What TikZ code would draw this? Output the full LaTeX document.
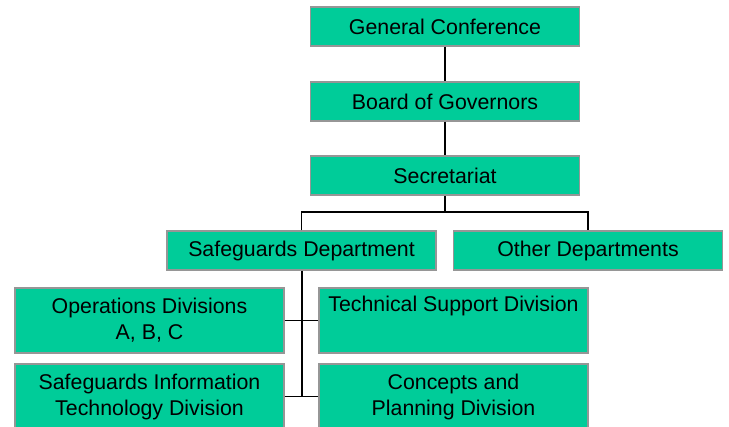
\documentclass[tikz,border=0pt]{standalone}
\usepackage{fontspec}
\setmainfont{Liberation Sans}
\definecolor{boxgreen}{RGB}{0,204,153}
\definecolor{boxedge}{RGB}{150,150,150}
\tikzset{
  orgbox/.style={draw=boxedge, line width=0.8pt, fill=boxgreen, inner sep=0pt,
    minimum width=269*0.75pt, minimum height=39*0.75pt, align=center,
    font=\fontsize{16}{19.5}\selectfont},
  tallbox/.style={orgbox, minimum height=65*0.75pt},
  thinline/.style={black, line width=1pt},
  thickline/.style={black, line width=1.5pt}
}
\begin{document}
\begin{tikzpicture}[x=0.75pt,y=-0.75pt]
	\useasboundingbox (0,0) rectangle (729,427);

	\node[orgbox] (gc) at (445,26.5) {General Conference};
	\node[orgbox] (bog) at (445,101.5) {Board of Governors};
	\node[orgbox] (sec) at (445,175.5) {Secretariat};

	\node[orgbox] (sgd) at (301.5,250.5) {Safeguards Department};
	\node[orgbox] (oth) at (588,250.5) {Other Departments};

	\node[tallbox] (ops) at (149.5,320.5) {Operations Divisions\\A, B, C};
	\node[tallbox] (tsd) at (453.5,320.5) {Technical Support Division\\\strut};
	\node[tallbox] (sit) at (149.5,396.5) {Safeguards Information\\Technology Division};
	\node[tallbox] (cpd) at (453.5,396.5) {Concepts and\\Planning Division};

	\coordinate (bar) at (445,212);

	\draw [thinline] (gc.south) -- (bog.north);
	\draw [thinline] (bog.south) -- (sec.north);
	\draw [thinline] (sec.south) -- (bar);
	\draw [thinline] (sgd.north) |- (bar) -| (oth.north);

	\draw [thickline] (sgd.south) -- (sgd.south |- sit.east);
	\draw [thinline] (ops.east) -- (tsd.west);
	\draw [thinline] (sit.east) -- (cpd.west);
\end{tikzpicture}
\end{document}
